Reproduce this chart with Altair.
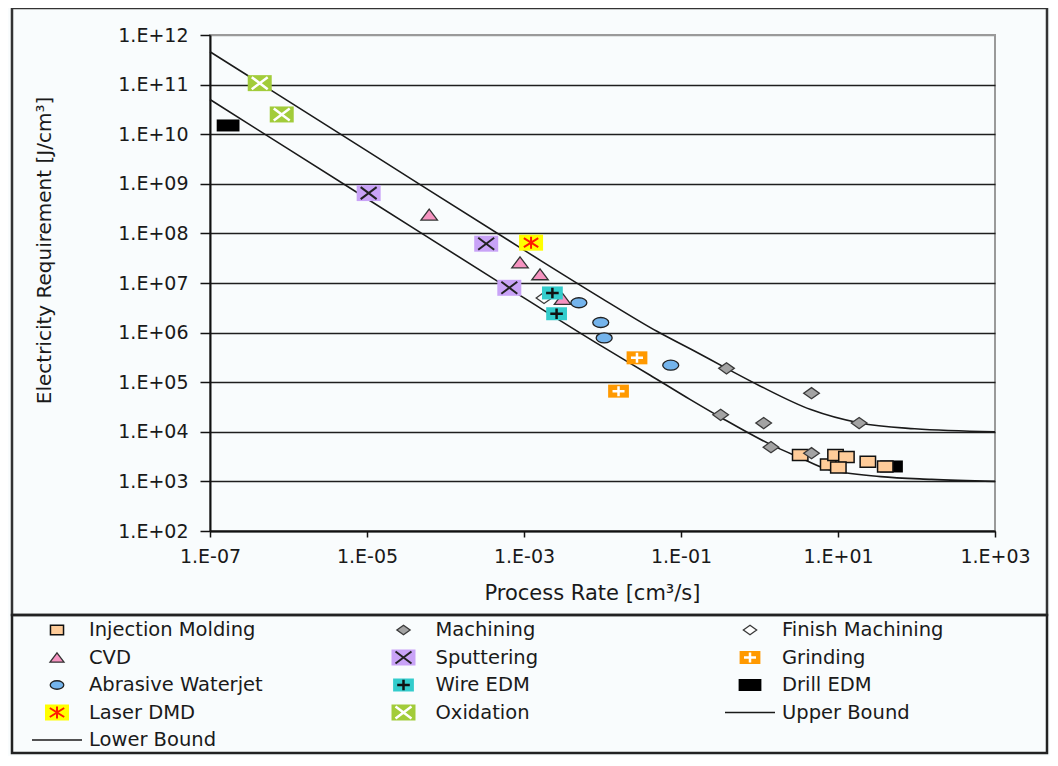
import json
import altair as alt
import pandas as pd

# ---------------- data ----------------
categories = ["Injection Molding", "Machining", "Finish Machining", "CVD", "Sputtering",
              "Grinding", "Abrasive Waterjet", "Wire EDM", "Drill EDM", "Laser DMD",
              "Oxidation", "Upper Bound", "Lower Bound"]

inj_x = [3.3, 7.5, 9.3, 12.8, 10.1, 24.0, 40.0]
inj_y = [3400, 2200, 3400, 3100, 1900, 2500, 2000]
mach_x = [0.38, 4.6, 0.32, 1.13, 18.6, 1.4, 4.6]
mach_y = [1.9e5, 6.0e4, 2.2e4, 1.5e4, 1.5e4, 4.9e3, 3.7e3]
fin_x = [1.8e-3]
fin_y = [5.0e6]
cvd_x = [6.2e-5, 8.9e-4, 1.6e-3, 3.1e-3]
cvd_y = [2.4e8, 2.6e7, 1.5e7, 4.8e6]
sput_x = [1.05e-5, 3.3e-4, 6.5e-4]
sput_y = [6.5e8, 6.2e7, 8.0e6]
grind_x = [2.75e-2, 1.6e-2]
grind_y = [3.1e5, 6.6e4]
awj_x = [5.0e-3, 9.5e-3, 1.05e-2, 7.4e-2]
awj_y = [4.0e6, 1.6e6, 7.8e5, 2.2e5]
wire_x = [2.3e-3, 2.6e-3]
wire_y = [6.3e6, 2.4e6]
drill_x = [1.7e-7, 48.0]
drill_y = [1.5e10, 2.0e3]
laser_x = [1.23e-3]
laser_y = [6.5e7]
oxid_x = [4.3e-7, 8.2e-7]
oxid_y = [1.07e11, 2.5e10]

upper_x = [1e-7, 1e-5, 1e-3, 1e-2, 0.05, 0.15, 0.38, 1.0, 4.5, 19.0, 95.0, 1000.0]
upper_y = [4.6e11, 4.6e9, 4.6e7, 4.8e6, 1.05e6, 4.2e5, 1.9e5, 8.5e4, 2.8e4, 1.5e4, 1.15e4, 1.0e4]
lower_x = [1e-7, 1e-5, 1e-3, 1e-2, 0.04, 0.13, 0.33, 1.5, 3.3, 7.0, 35.0, 155.0, 1000.0]
lower_y = [5.0e10, 5.0e8, 5.0e6, 5.2e5, 1.4e5, 4.5e4, 1.9e4, 5.2e3, 3.0e3, 1.8e3, 1.25e3, 1.1e3, 1.0e3]

x_ticks = [1e-7, 1e-5, 1e-3, 1e-1, 1e1, 1e3]
x_labels = ["1.E-07", "1.E-05", "1.E-03", "1.E-01", "1.E+01", "1.E+03"]
y_ticks = [1e2, 1e3, 1e4, 1e5, 1e6, 1e7, 1e8, 1e9, 1e10, 1e11, 1e12]
y_labels = ["1.E+02", "1.E+03", "1.E+04", "1.E+05", "1.E+06", "1.E+07",
            "1.E+08", "1.E+09", "1.E+10", "1.E+11", "1.E+12"]

series_points = {
    "Drill EDM": (drill_x, drill_y),
    "Injection Molding": (inj_x, inj_y),
    "Machining": (mach_x, mach_y),
    "Finish Machining": (fin_x, fin_y),
    "CVD": (cvd_x, cvd_y),
    "Sputtering": (sput_x, sput_y),
    "Grinding": (grind_x, grind_y),
    "Abrasive Waterjet": (awj_x, awj_y),
    "Wire EDM": (wire_x, wire_y),
    "Laser DMD": (laser_x, laser_y),
    "Oxidation": (oxid_x, oxid_y),
}

rows = []
for cat, (xs, ys) in series_points.items():
    for a, b in zip(xs, ys):
        rows.append({"cat": cat, "x": a, "y": b})
pts = pd.DataFrame(rows)

brows = []
for a, b in zip(upper_x, upper_y):
    brows.append({"series": "Upper Bound", "x": a, "y": b})
for a, b in zip(lower_x, lower_y):
    brows.append({"series": "Lower Bound", "x": a, "y": b})
bounds = pd.DataFrame(brows)

legend_df = pd.DataFrame({
    "cat": categories,
    "col": [i % 3 for i in range(len(categories))],
    "row": [i // 3 for i in range(len(categories))],
})

# ---------------- styles ----------------
def rect(a):
    return f"M-{a},-1L{a},-1L{a},1L-{a},1Z"

ELL = "M-1.6,0A1.6,1,0,1,1,1.6,0A1.6,1,0,1,1,-1.6,0Z"
DIA = "M0,-1L1.4,0L0,1L-1.4,0Z"
TRI = "M0,-1L1.5,1L-1.5,1Z"
XG = "M-1.33,-1L1.33,1M1.33,-1L-1.33,1"
PG = "M-1.2,0L1.2,0M0,-1L0,1"
AST = "M0,-1L0,1M-1.2,-0.75L1.2,0.75M1.2,-0.75L-1.2,0.75"
LINE = "M-1,0L1,0"

STY = {
    "Injection Molding": dict(shape=rect(1.4), size=121, fill="#FFCC99", stroke="#111", sw=1.5, simple=True),
    "Machining": dict(shape=DIA, size=125, fill="#A3A3A3", stroke="#3a3a3a", sw=1.3, simple=True),
    "Finish Machining": dict(shape=DIA, size=125, fill="#FFFFFF", stroke="#3a3a3a", sw=1.3, simple=True),
    "CVD": dict(shape=TRI, size=121, fill="#F593C0", stroke="#333", sw=1.3, simple=True),
    "Sputtering": dict(shape=rect(1.5), size=256, fill="#C9A3F7",
                       glyph=XG, gsize=144, gcolor="#222", gsw=2),
    "Grinding": dict(shape=rect(1.6), size=169, fill="#FF9900",
                     glyph=PG, gsize=100, gcolor="#FFFFFF", gsw=2.5),
    "Abrasive Waterjet": dict(shape=ELL, size=100, fill="#74B4EC", stroke="#222", sw=1.3, simple=True),
    "Wire EDM": dict(shape=rect(1.6), size=169, fill="#33CCCC",
                     glyph=PG, gsize=110, gcolor="#111", gsw=2.5),
    "Drill EDM": dict(shape=rect(1.9), size=144, fill="#000000"),
    "Laser DMD": dict(shape=rect(1.5), size=256, fill="#FFFF00",
                      glyph=AST, gsize=144, gcolor="#FF1A00", gsw=2),
    "Oxidation": dict(shape=rect(1.5), size=256, fill="#A2CC3A",
                      glyph=XG, gsize=144, gcolor="#FFFFFF", gsw=2.5),
}

FONT = "DejaVu Sans"
TXT = "#1a1a1a"

# ---------------- encodings ----------------
x_expr = f"{json.dumps(x_labels)}[round((log(datum.value)/LN10 + 7)/2)]"
y_expr = f"{json.dumps(y_labels)}[round(log(datum.value)/LN10) - 2]"

X_MAIN = alt.X("x:Q",
               scale=alt.Scale(type="log", domain=[1e-7, 1e3], nice=False),
               axis=alt.Axis(values=x_ticks, labelExpr=x_expr, orient="bottom",
                             title="Process Rate [cm³/s]", grid=False,
                             domainColor="#111", domainWidth=2, tickColor="#111",
                             tickWidth=1.5, tickSize=6, labelPadding=10,
                             labelFont=FONT, labelFontSize=19, labelColor=TXT,
                             labelFlush=False, labelOverlap=False,
                             titleFont=FONT, titleFontSize=21, titleFontWeight="normal",
                             titleColor=TXT, titleX=382, titleY=68,
                             titleBaseline="alphabetic", titleAlign="center"))
Y_MAIN = alt.Y("y:Q",
               scale=alt.Scale(type="log", domain=[1e2, 1e12], nice=False),
               axis=alt.Axis(values=y_ticks, labelExpr=y_expr, orient="left",
                             title="Electricity Requirement  [J/cm³]", grid=True,
                             gridColor={"condition": {"test": "datum.value >= 1e12", "value": "#9a9a9a"},
                                        "value": "#1e1e1e"},
                             gridWidth=1.5,
                             domainColor="#111", domainWidth=2, tickColor="#111",
                             tickWidth=1.5, tickSize=10, labelPadding=12,
                             labelFont=FONT, labelFontSize=19, labelColor=TXT,
                             labelFlush=False, labelOverlap=False,
                             titleFont=FONT, titleFontSize=20, titleFontWeight="normal",
                             titleColor=TXT, titleX=-166, titleY=215, titleAngle=270,
                             titleAlign="center", titleBaseline="middle"))

X_LEG = alt.X("col:Q", scale=alt.Scale(domain=[0, 2], range=[-153, 540]), axis=None)
Y_LEG = alt.Y("row:Q", scale=alt.Scale(domain=[0, 4], range=[595, 705]), axis=None)


def marker_layers(df, xe, ye, cat, k_simple=1.0):
    st = STY[cat]
    k = k_simple if st.get("simple") else 1.0
    base = alt.Chart(df).transform_filter(alt.datum.cat == cat)
    kw = dict(shape=st["shape"], size=st["size"] * k, filled=True, fill=st["fill"], opacity=1)
    if "stroke" in st:
        kw.update(stroke=st["stroke"], strokeWidth=st["sw"])
    else:
        kw.update(strokeWidth=0)
    out = [base.mark_point(**kw).encode(x=xe, y=ye)]
    if "glyph" in st:
        out.append(base.mark_point(shape=st["glyph"], size=st["gsize"], filled=False,
                                   stroke=st["gcolor"], strokeWidth=st["gsw"], opacity=1)
                   .encode(x=xe, y=ye))
    return out


# ---------------- main plot ----------------
lines = alt.Chart(bounds).mark_line(interpolate="monotone", color="#1a1a1a",
                                    strokeWidth=1.6).encode(x=X_MAIN, y=Y_MAIN, detail="series:N")
main_layers = [lines]
for cat in series_points:
    main_layers += marker_layers(pts, X_MAIN, Y_MAIN, cat)
main = alt.layer(*main_layers)

# ---------------- legend ----------------
leg_layers = []
for cat in categories:
    if cat in STY:
        leg_layers += marker_layers(legend_df, X_LEG, Y_LEG, cat, k_simple=0.72)
leg_layers.append(
    alt.Chart(legend_df).transform_filter(alt.FieldOneOfPredicate(field="cat", oneOf=["Upper Bound", "Lower Bound"]))
    .mark_point(shape=LINE, size=2500, filled=False, stroke="#1a1a1a", strokeWidth=1.6, opacity=1)
    .encode(x=X_LEG, y=Y_LEG))
leg_layers.append(
    alt.Chart(legend_df).mark_text(align="left", baseline="middle", dx=32, font=FONT,
                                   fontSize=19.5, color=TXT)
    .encode(x=X_LEG, y=Y_LEG, text="cat:N"))
legend = alt.layer(*leg_layers)

# ---------------- frames ----------------
box_df = pd.DataFrame({"k": [0]})
box_plot = alt.Chart(box_df).mark_rect(fillOpacity=0, stroke="#333", strokeWidth=2.5).encode(
    x=alt.value(-198), x2=alt.value(837), y=alt.value(-27), y2=alt.value(580))
box_leg = alt.Chart(box_df).mark_rect(fillOpacity=0, stroke="#222", strokeWidth=2.5).encode(
    x=alt.value(-198), x2=alt.value(837), y=alt.value(580), y2=alt.value(718))

chart = (
    alt.layer(box_plot, box_leg, main, legend)
    .resolve_scale(x="independent", y="independent")
    .properties(width=785, height=496,
                autosize=alt.AutoSizeParams(type="none"),
                padding={"left": 202, "top": 27, "right": 55, "bottom": 225},
                background="#f9fcfd")
    .configure_view(stroke="#9a9a9a", strokeWidth=2)
)

chart.save("out.html", embed_options={"renderer": "svg", "actions": False})
